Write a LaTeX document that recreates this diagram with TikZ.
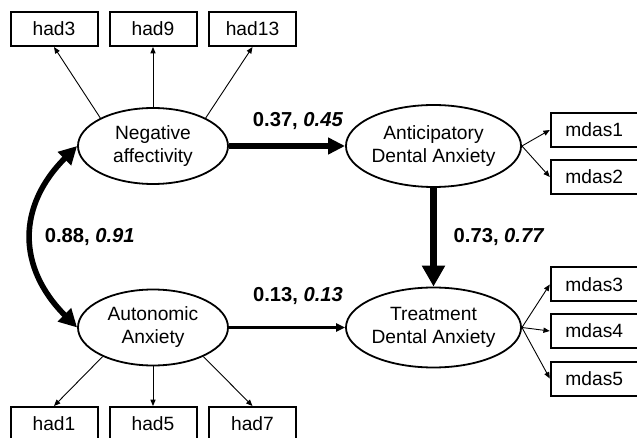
\documentclass[tikz,border=0pt]{standalone}
\usepackage{fontspec}
\setmainfont{Liberation Sans}
\usetikzlibrary{arrows.meta,shapes.geometric}

\begin{document}
\begin{tikzpicture}[
  x=0.5pt, y=-0.5pt,
  font=\fontsize{9.6}{11.5}\selectfont,
  item/.style={
    draw=black, line width=1pt, fill=white,
    minimum width=43.5pt, minimum height=17pt, inner sep=0pt
  },
  latent/.style={
    ellipse, draw=black, line width=0.9pt,
    minimum width=75pt, minimum height=38pt,
    inner sep=0pt, align=center
  },
  loading/.style={-{Triangle[length=3.2pt,width=2.6pt]}, line width=0.45pt},
  strongpath/.style={-{Triangle[length=8.5pt,width=8pt]}, line width=2.6pt},
  keypath/.style={-{Triangle[length=10.5pt,width=11pt]}, line width=3.2pt},
  weakpath/.style={-{Triangle[length=4.5pt,width=4pt]}, line width=1.1pt},
  corr/.style={{Triangle[length=9pt,width=9pt]}-{Triangle[length=9pt,width=9pt]},
    line width=2.8pt},
  coef/.style={font=\fontsize{10.1}{12}\selectfont\bfseries, inner sep=0pt}
]
\useasboundingbox (0,0) rectangle (637,438);

% Latent factors.
\node[latent] (negaff) at (153,146) {Negative\\affectivity};
\node[latent] (autanx) at (153,327.5) {Autonomic\\Anxiety};
\node[latent, minimum height=41pt] (antda) at (433.5,146) {Anticipatory\\Dental Anxiety};
\node[latent, minimum height=40pt] (trtda) at (433.5,327.5) {Treatment\\Dental Anxiety};

% HAD items.
\node[item] (had3)  at (54,29)    {had3};
\node[item] (had9)  at (153,29)   {had9};
\node[item] (had13) at (252.5,29) {had13};
\node[item] (had1)  at (54,424)    {had1};
\node[item] (had5)  at (153,424)   {had5};
\node[item] (had7)  at (252.5,424) {had7};

% MDAS items.
\node[item] (mdas1) at (594.3,130)   {mdas1};
\node[item] (mdas2) at (594.3,177)   {mdas2};
\node[item] (mdas3) at (594.3,284.5) {mdas3};
\node[item] (mdas4) at (594.3,331)   {mdas4};
\node[item] (mdas5) at (594.3,378.5) {mdas5};

% Loadings.
\draw[loading] (negaff.152) -- (had3.south);
\draw[loading] (negaff.north) -- (had9.south);
\draw[loading] (negaff.28) -- (had13.south);
\draw[loading] (autanx.210) -- (had1.north);
\draw[loading] (autanx.south) -- (had5.north);
\draw[loading] (autanx.330) -- (had7.north);
\draw[loading] (antda.east) -- (mdas1.west);
\draw[loading] (antda.east) -- (mdas2.west);
\draw[loading] (trtda.east) -- (mdas3.west);
\draw[loading] (trtda.east) -- (mdas4.west);
\draw[loading] (trtda.east) -- (mdas5.west);

% Structural paths.
\draw[strongpath] (negaff) -- (antda)
  node[coef, midway, above=7pt, xshift=5.5pt] {0.37, \textit{0.45}};
\draw[weakpath] (autanx) -- (trtda)
  node[coef, midway, above=10.7pt, xshift=5.5pt] {0.13, \textit{0.13}};
\draw[keypath] (antda) -- (trtda)
  node[coef, midway, right=8.5pt] {0.73, \textit{0.77}};
\draw[corr] (negaff.west) to[out=225, in=135, looseness=1.2]
  node[coef, right=5pt] {0.88, \textit{0.91}} (autanx.west);

\end{tikzpicture}
\end{document}
